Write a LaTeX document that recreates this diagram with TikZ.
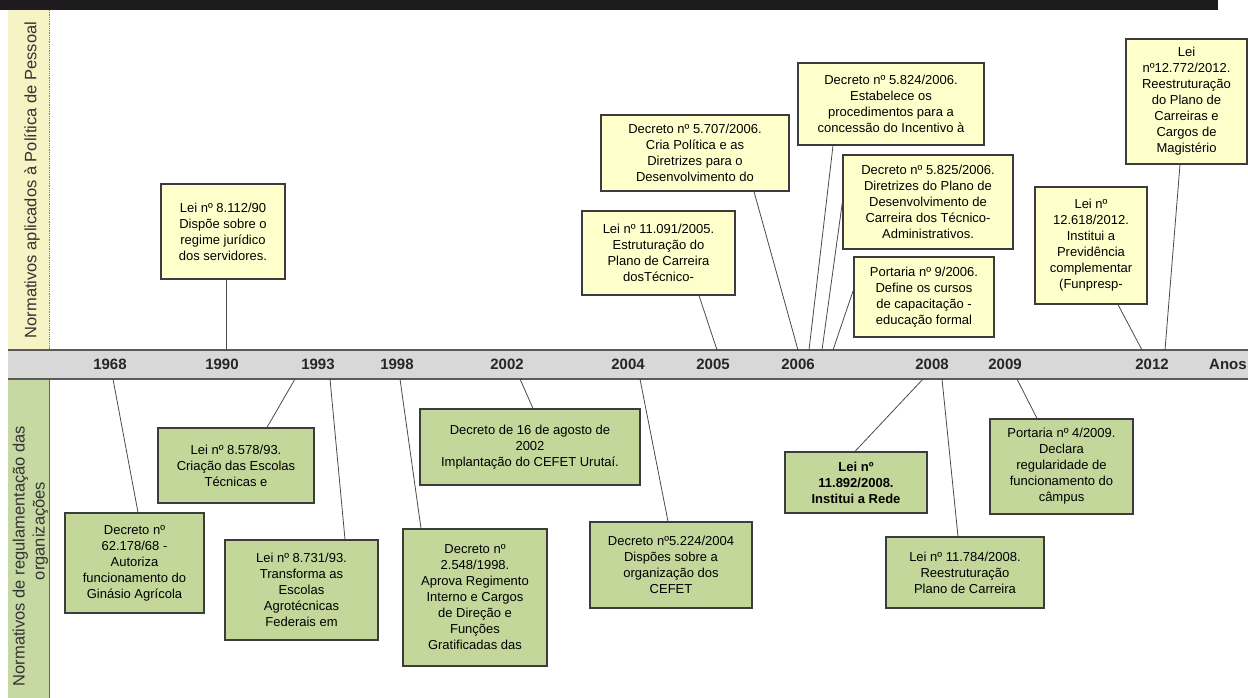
\documentclass[tikz,border=0pt]{standalone}
\usepackage{fontspec}
\setmainfont{Liberation Sans}
\definecolor{ybfill}{HTML}{FFFFCC}
\definecolor{gbfill}{HTML}{C4D79B}
\definecolor{boxline}{HTML}{3C3C3C}
\definecolor{connline}{HTML}{4A4A4A}
\definecolor{ystrip}{HTML}{F6F4C4}
\definecolor{gstrip}{HTML}{C6D9A2}
\definecolor{axisfill}{HTML}{D8D8D8}
\definecolor{axisline}{HTML}{5A5A5A}
\definecolor{topbar}{HTML}{1E1B1F}
\newcommand\bxfont{\fontsize{13}{16}\selectfont}
\newcommand\yrfont{\fontsize{15}{18}\selectfont\bfseries}
\newcommand\stripfont{\fontsize{16.5}{20}\selectfont}
\begin{document}
\begin{tikzpicture}[x=1pt,y=-1pt,
  ybox/.style={draw=boxline, fill=ybfill, line width=1.2pt, inner sep=0pt, align=center, font=\bxfont},
  gbox/.style={ybox, fill=gbfill},
  conn/.style={draw=connline, line width=0.8pt},
  year/.style={font=\yrfont, inner sep=0pt, text=black!85},
  striplabel/.style={font=\stripfont, rotate=90, align=center, inner sep=0pt, text=black!80}]
\useasboundingbox (0,0) rectangle (1248,698);
\clip (0,0) rectangle (1248,698);
% top bar
\fill[topbar] (0,0) rectangle (1218,10);
% left strips
\fill[ystrip] (8,10) rectangle (50,350);
\fill[gstrip] (8,379) rectangle (50,698);
\draw[gray, densely dotted, line width=0.8pt] (49,10) -- (49,350);
\draw[gray!80!black, line width=0.8pt] (49,379) -- (49,698);
\node[striplabel] (lblTop) at (32,180) {Normativos aplicados à Política de Pessoal};
\node[striplabel] (lblBot) at (30.5,556) {Normativos de regulamentação das\\\hspace*{50pt}organizações};
% axis
\fill[axisfill] (8,350) rectangle (1248,379);
\draw[axisline, line width=2pt] (8,350) -- (1248,350);
\draw[axisline, line width=2pt] (8,379) -- (1248,379);
\node[year] (y1968) at (110,364.5) {1968};
\node[year] (y1990) at (222,364.5) {1990};
\node[year] (y1993) at (318,364.5) {1993};
\node[year] (y1998) at (397,364.5) {1998};
\node[year] (y2002) at (507,364.5) {2002};
\node[year] (y2004) at (628,364.5) {2004};
\node[year] (y2005) at (713,364.5) {2005};
\node[year] (y2006) at (798,364.5) {2006};
\node[year] (y2008) at (932,364.5) {2008};
\node[year] (y2009) at (1005,364.5) {2009};
\node[year] (y2012) at (1152,364.5) {2012};
\node[year, anchor=west] (anos) at (1209,364.5) {Anos};
% axis tick coordinates (top)
\coordinate (tA) at (226,350);
\coordinate (tB) at (717,350);
\coordinate (tC) at (798,350);
\coordinate (tD) at (809,350);
\coordinate (tE) at (822,350);
\coordinate (tF) at (833,350);
\coordinate (tG) at (1142,350);
\coordinate (tH) at (1165,350);
% axis tick coordinates (bottom)
\coordinate (bI) at (113,379);
\coordinate (bJ) at (295,379);
\coordinate (bK) at (330,379);
\coordinate (bL) at (400,379);
\coordinate (bM) at (520,379);
\coordinate (bN) at (640,379);
\coordinate (bO) at (923,379);
\coordinate (bP) at (942,379);
\coordinate (bQ) at (1017,379);
% top boxes
\node[ybox, minimum width=124pt, minimum height=95pt] (A) at (223,231.5) {Lei nº 8.112/90\\Dispõe sobre o\\regime jurídico\\dos servidores.};
\node[ybox, minimum width=153pt, minimum height=84pt] (B) at (658.5,253) {Lei nº 11.091/2005.\\Estruturação do\\Plano de Carreira\\dosTécnico-};
\node[ybox, minimum width=188pt, minimum height=76pt] (C) at (695,153) {Decreto nº 5.707/2006.\\Cria Política e as\\Diretrizes para o\\Desenvolvimento do};
\node[ybox, minimum width=186pt, minimum height=82pt] (D) at (891,104) {Decreto nº 5.824/2006.\\Estabelece os\\procedimentos para a\\concessão do Incentivo à};
\node[ybox, minimum width=170pt, minimum height=94pt] (E) at (928,202) {Decreto nº 5.825/2006.\\Diretrizes do Plano de\\Desenvolvimento de\\Carreira dos Técnico-\\Administrativos.};
\node[ybox, minimum width=140pt, minimum height=80pt] (F) at (924,297) {Portaria nº 9/2006.\\Define os cursos\\de capacitação -\\educação formal};
\node[ybox, minimum width=112pt, minimum height=117pt] (G) at (1091,245.5) {Lei nº\\12.618/2012.\\Institui a\\Previdência\\complementar\\(Funpresp-};
\node[ybox, minimum width=121pt, minimum height=125pt] (H) at (1186.5,101.5) {Lei\\nº12.772/2012.\\Reestruturação\\do Plano de\\Carreiras e\\Cargos de\\Magistério};
% bottom boxes
\node[gbox, minimum width=139pt, minimum height=100pt] (I) at (134.5,563) {Decreto nº\\62.178/68 -\\Autoriza\\funcionamento do\\Ginásio Agrícola};
\node[gbox, minimum width=156pt, minimum height=75pt] (J) at (236,465.5) {Lei nº 8.578/93.\\Criação das Escolas\\Técnicas e};
\node[gbox, minimum width=153pt, minimum height=100pt] (K) at (301.5,590) {Lei nº 8.731/93.\\Transforma as\\Escolas\\Agrotécnicas\\Federais em};
\node[gbox, minimum width=144pt, minimum height=137pt] (L) at (475,597.5) {Decreto nº\\2.548/1998.\\Aprova Regimento\\Interno e  Cargos\\de Direção e\\Funções\\Gratificadas das};
\node[gbox, minimum width=220pt, minimum height=76pt] (M) at (530,447) {Decreto de 16 de agosto de\\2002\\Implantação do CEFET Urutaí.};
\node[gbox, minimum width=162pt, minimum height=86pt] (N) at (671,565) {Decreto nº5.224/2004\\Dispões sobre a\\organização dos\\CEFET};
\node[gbox, minimum width=142pt, minimum height=61pt, font=\bxfont\bfseries] (O) at (856,482.5) {Lei nº\\11.892/2008.\\Institui a Rede};
\node[gbox, minimum width=158pt, minimum height=71pt] (P) at (965,572.5) {Lei nº 11.784/2008.\\Reestruturação\\Plano de Carreira};
\node[gbox, minimum width=143pt, minimum height=95pt] (Q) at (1061.5,466.5) {Portaria nº 4/2009.\\Declara\\regularidade de\\funcionamento do\\câmpus};
% connectors
\draw[conn] ([xshift=3pt]A.south) -- (tA);
\draw[conn] ([xshift=40.5pt]B.south) -- (tB);
\draw[conn] ([xshift=59pt]C.south) -- (tC);
\draw[conn] ([xshift=-58pt]D.south) -- (tD);
\draw[conn] (E.west) -- (tE);
\draw[conn] ([yshift=7pt]F.west) -- (tF);
\draw[conn] ([xshift=27pt]G.south) -- (tG);
\draw[conn] ([xshift=-6.5pt]H.south) -- (tH);
\draw[conn] (bI) -- ([xshift=3.5pt]I.north);
\draw[conn] (bJ) -- ([xshift=31pt]J.north);
\draw[conn] (bK) -- ([xshift=43.5pt]K.north);
\draw[conn] (bL) -- ([xshift=-54pt]L.north);
\draw[conn] (bM) -- ([xshift=3pt]M.north);
\draw[conn] (bN) -- ([xshift=-3pt]N.north);
\draw[conn] (bO) -- ([xshift=-1pt]O.north);
\draw[conn] (bP) -- ([xshift=-7pt]P.north);
\draw[conn] (bQ) -- ([xshift=-24.5pt]Q.north);
\end{tikzpicture}
\end{document}
